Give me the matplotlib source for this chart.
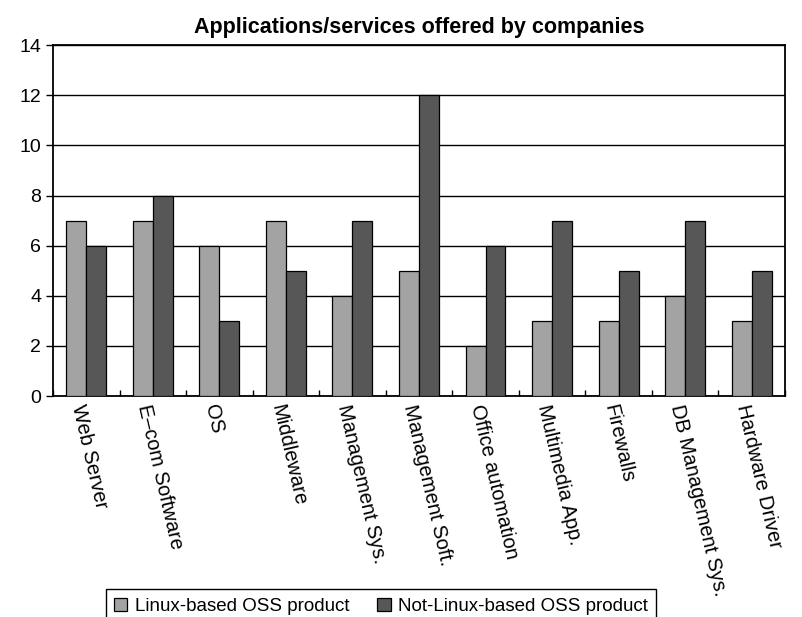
import matplotlib
matplotlib.use('Agg')
import matplotlib.pyplot as plt
import numpy as np

plt.rcParams['font.family'] = ['Liberation Sans', 'DejaVu Sans']

categories = ['Web Server', 'E–com Software', 'OS', 'Middleware', 'Management Sys.',
              'Management Soft.', 'Office automation', 'Multimedia App.', 'Firewalls',
              'DB Management Sys.', 'Hardware Driver']
linux_based = [7, 7, 6, 7, 4, 5, 2, 3, 3, 4, 3]
not_linux_based = [6, 8, 3, 5, 7, 12, 6, 7, 5, 7, 5]

fig = plt.figure(figsize=(8.03, 6.17), dpi=100)
ax = fig.add_axes([0.066, 0.358, 0.9115, 0.569])

x = np.arange(len(categories))
w = 0.3
ax.bar(x - w / 2, linux_based, w, color='#a3a3a3', edgecolor='black', linewidth=0.9,
       label='Linux-based OSS product', zorder=3)
ax.bar(x + w / 2, not_linux_based, w, color='#575757', edgecolor='black', linewidth=0.9,
       label='Not-Linux-based OSS product', zorder=3)

ax.set_xlim(-0.5, len(categories) - 0.5)
ax.set_ylim(0, 14)
ax.set_yticks(range(0, 15, 2))
ax.yaxis.grid(True, color='black', linewidth=1, zorder=0)
for s in ax.spines.values():
    s.set_linewidth(1.3)

ax.set_xticks(x)
ax.set_xticklabels(categories, rotation=-77, ha='left', va='top', rotation_mode='anchor',
                   fontsize=14.5)
ax.set_xticks(np.arange(-0.5, len(categories)), minor=True)
ax.tick_params(axis='x', which='major', length=0, pad=5)
ax.tick_params(axis='x', which='minor', direction='in', length=4, width=1)
ax.tick_params(axis='y', direction='out', length=5, width=1, labelsize=14)

ax.set_title('Applications/services offered by companies', fontsize=15.5, fontweight='bold', pad=9)

fig.legend(loc='upper center', bbox_to_anchor=(0.4745, 0.045), ncol=2, fontsize=13.5,
           frameon=True, fancybox=False, edgecolor='black', framealpha=1,
           handlelength=0.7, handleheight=0.7, handletextpad=0.4, columnspacing=1.5,
           borderpad=0.45, borderaxespad=0)

fig.savefig('out.png', dpi=100)
